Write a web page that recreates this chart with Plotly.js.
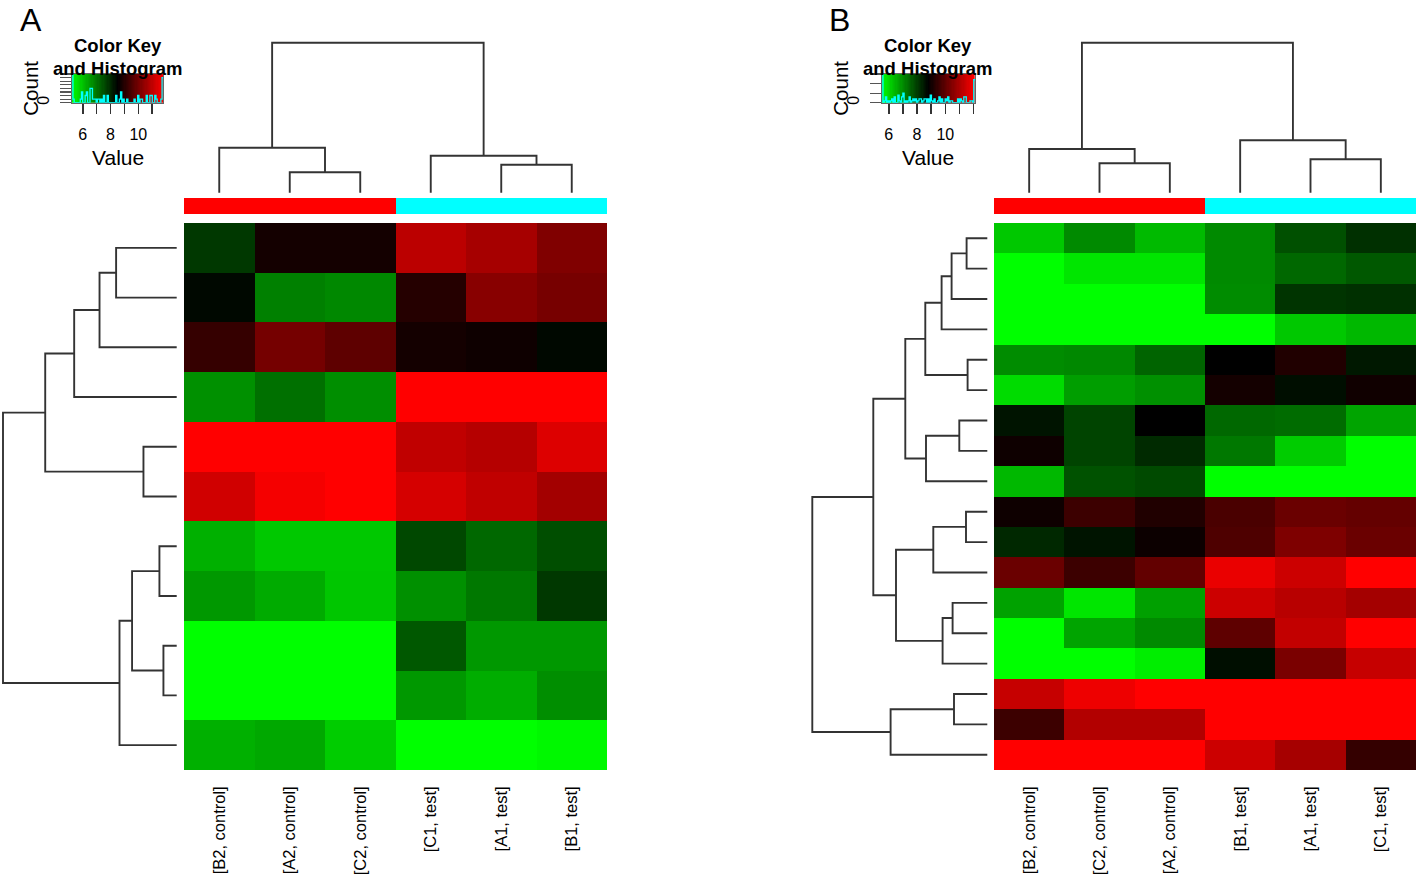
<!DOCTYPE html>
<html><head><meta charset="utf-8">
<script src="https://cdn.plot.ly/plotly-3.0.1.min.js"></script>
<style>html,body{margin:0;padding:0;background:#fff;} #plot{width:1416px;height:878px;}</style>
</head><body><div id="plot"></div>
<script>
const W = 1416, H = 878;

// ---------- Panel A data ----------
const colsA = ['[B2, control]', '[A2, control]', '[C2, control]', '[C1, test]', '[A1, test]', '[B1, test]'];
const groupsA = ['control', 'control', 'control', 'test', 'test', 'test'];
const valuesA = [
  [7.78, 8.76, 8.76, 10.92, 10.65, 10.16],
  [8.40, 6.84, 6.74, 8.98, 10.26, 10.04],
  [9.19, 10.01, 9.72, 8.76, 8.68, 8.40],
  [6.64, 7.05, 6.66, 12.0, 12.1, 11.9],
  [12.2, 12.0, 12.3, 10.98, 10.84, 11.36],
  [11.19, 11.67, 11.9, 11.26, 10.98, 10.61],
  [6.22, 5.91, 5.91, 7.57, 7.15, 7.49],
  [6.53, 6.29, 5.94, 6.64, 6.95, 7.78],
  [5.0, 4.9, 5.1, 7.36, 6.53, 6.53],
  [5.0, 5.1, 4.9, 6.53, 6.26, 6.66],
  [6.22, 6.33, 5.86, 5.1, 5.0, 5.29]
];
const keyBreaksA = [5.2, 11.8];
const keyTicksA = [6, 7, 8, 9, 10, 11];
const keyTickTextA = ['6', '', '8', '', '10', ''];
// dendrogram merges: [childA, childB, height]; negative = leaf (display order), positive = earlier merge
const colMergesA = [[-2, -3, 20.4], [-1, 1, 45], [-5, -6, 28], [-4, 3, 37], [2, 4, 150]];
const rowMergesA = [[-1, -2, 60.7], [1, -3, 77.3], [2, -4, 102.7], [-5, -6, 33.3], [3, 4, 131.7],
  [-7, -8, 17.3], [-9, -10, 13.3], [6, 7, 44.7], [8, -11, 57.3], [5, 9, 174]];

// ---------- Panel B data ----------
const colsB = ['[B2, control]', '[C2, control]', '[A2, control]', '[B1, test]', '[A1, test]', '[C1, test]'];
const groupsB = ['control', 'control', 'control', 'test', 'test', 'test'];
const valuesB = [
  [6.21, 7.01, 6.39, 7.01, 7.76, 8.18],
  [5.3, 5.82, 5.82, 7.01, 7.45, 7.66],
  [5.3, 5.2, 5.4, 6.99, 8.13, 8.18],
  [5.3, 5.4, 5.2, 5.3, 6.21, 6.42],
  [6.99, 7.04, 7.51, 8.80, 9.21, 8.49],
  [5.95, 6.76, 6.94, 9.06, 8.62, 9.01],
  [8.54, 7.92, 8.80, 7.45, 7.40, 6.68],
  [8.98, 7.92, 8.26, 7.25, 6.16, 5.3],
  [6.42, 7.74, 7.84, 5.3, 5.2, 5.4],
  [8.98, 9.58, 9.21, 9.76, 10.17, 10.09],
  [8.28, 8.54, 8.96, 9.81, 10.43, 10.17],
  [10.17, 9.58, 10.07, 11.83, 11.44, 12.3],
  [6.70, 5.82, 6.73, 11.44, 11.18, 10.92],
  [5.3, 6.68, 7.01, 10.02, 11.31, 12.4],
  [5.2, 5.3, 5.72, 8.62, 10.38, 11.36],
  [11.36, 11.88, 12.3, 12.5, 12.4, 12.6],
  [9.58, 11.10, 11.10, 12.4, 12.5, 12.3],
  [12.4, 12.5, 12.3, 11.44, 10.95, 9.47]
];
const keyBreaksB = [5.5, 12.1];
const keyTicksB = [6, 7, 8, 9, 10, 11, 12];
const keyTickTextB = ['6', '', '8', '', '10', '', ''];
const colMergesB = [[-2, -3, 29.4], [-1, 1, 43.7], [-5, -6, 33.4], [-4, 3, 52.4], [2, 4, 150]];
const rowMergesB = [[-1, -2, 20.7], [1, -3, 35.7], [2, -4, 45.7], [-5, -6, 19.7], [3, 4, 62],
  [-7, -8, 28], [6, -9, 61.3], [5, 7, 82], [-10, -11, 21.3], [9, -12, 54], [-13, -14, 34.7],
  [11, -15, 44.7], [10, 12, 91.3], [8, 13, 114], [-16, -17, 33.3], [15, -18, 96.7], [14, 16, 175]];

const nBins = 75;

// ---------- helpers ----------
const px = x => x / W;
const py = y => 1 - y / H;
const cs = [[0, 'rgb(0,255,0)'], [0.5, 'rgb(0,0,0)'], [1, 'rgb(255,0,0)']];
const sideCs = [[0, '#FF0000'], [1, '#00FFFF']];
const FONT = 'Liberation Sans, Arial, Helvetica, sans-serif';
const LINEC = '#333333';

function dendro(merges, orient) {
  const pos = [], hei = [], xs = [], ys = [];
  const p = i => i < 0 ? -i - 1 : pos[i - 1];
  const h = i => i < 0 ? 0 : hei[i - 1];
  merges.forEach(m => {
    const [a, b, ht] = m;
    const P = [p(a), p(a), p(b), p(b)], Hh = [h(a), ht, ht, h(b)];
    if (orient === 'col') { xs.push(...P, null); ys.push(...Hh, null); }
    else { xs.push(...Hh, null); ys.push(...P, null); }
    pos.push((p(a) + p(b)) / 2); hei.push(ht);
  });
  return { xs, ys, maxH: Math.max(...hei) };
}

function hist(vals, lo, hi, nb) {
  const w = (hi - lo) / nb, c = new Array(nb).fill(0);
  vals.flat().forEach(v => { let i = Math.floor((v - lo) / w); if (i < 0) i = 0; if (i >= nb) i = nb - 1; c[i]++; });
  const x = [], y = [];
  for (let i = 0; i < nb; i++) { x.push(lo + i * w); y.push(c[i]); }
  x.push(hi); y.push(c[nb - 1]);
  return { x, y, max: Math.max(...c) };
}

function vertDendroAxis(maxH, p0, p1, pad) {
  const k = maxH / (p0 - p1);
  return { domain: [py(p0 + pad), py(p1 - pad)], range: [-pad * k, maxH + pad * k] };
}
function horzDendroAxis(maxH, p0, p1, pad) {
  const k = maxH / (p0 - p1);
  return { domain: [px(p1 - pad), px(p0 + pad)], range: [maxH + pad * k, -pad * k] };
}

const hidden = { visible: false, showgrid: false, zeroline: false, fixedrange: true };

const traces = [];
const layout = {
  width: W, height: H, margin: { l: 0, r: 0, t: 0, b: 0 },
  paper_bgcolor: '#ffffff', plot_bgcolor: 'rgba(0,0,0,0)', showlegend: false,
  font: { family: FONT, color: '#000' },
  annotations: []
};

function panel(opt) {
  const { cols, groups, values, breaks, keyTicks, keyTickText, colMerges, rowMerges, ax, xl, xr, rdL, rdR, keyL, keyR } = opt;
  const nR = values.length, nC = cols.length;
  const axN = n => (n === 1 ? '' : String(n));
  const hmX = 'xaxis' + axN(ax[0]), hmY = 'yaxis' + axN(ax[0]);
  const sideY = 'yaxis' + axN(ax[1]), cdY = 'yaxis' + axN(ax[2]), rdX = 'xaxis' + axN(ax[3]);
  const kX = 'xaxis' + axN(ax[4]), kY = 'yaxis' + axN(ax[4]);
  const xr_ = 'x' + axN(ax[0]), yr_ = 'y' + axN(ax[0]);

  // heatmap
  traces.push({
    type: 'heatmap', z: values, x: cols.map((_, i) => i), y: values.map((_, i) => i),
    colorscale: cs, zmin: breaks[0], zmax: breaks[1], showscale: false,
    xaxis: xr_, yaxis: yr_, hoverinfo: 'skip'
  });
  layout[hmX] = {
    domain: [px(xl), xr >= W ? 1 : px(xr)], range: [-0.5, nC - 0.5], anchor: yr_,
    tickmode: 'array', tickvals: cols.map((_, i) => i), ticktext: cols, tickangle: -90,
    ticks: '', ticklabelstandoff: 12, tickfont: { size: 16.5, family: FONT, color: '#000' },
    showgrid: false, zeroline: false, showline: false, fixedrange: true
  };
  layout[hmY] = Object.assign({}, hidden, { domain: [py(770), py(223)], range: [nR - 0.5, -0.5], anchor: xr_ });

  // side colour bar
  traces.push({
    type: 'heatmap', z: [groups.map(g => g === 'control' ? 0 : 1)], x: cols.map((_, i) => i), y: [0],
    colorscale: sideCs, zmin: 0, zmax: 1, showscale: false, xaxis: xr_, yaxis: 'y' + axN(ax[1]), hoverinfo: 'skip'
  });
  layout[sideY] = Object.assign({}, hidden, { domain: [py(214), py(198)], range: [-0.5, 0.5], anchor: xr_ });

  // column dendrogram
  const cd = dendro(colMerges, 'col');
  traces.push({
    type: 'scatter', mode: 'lines', x: cd.xs, y: cd.ys, xaxis: xr_, yaxis: 'y' + axN(ax[2]),
    line: { color: LINEC, width: 1.9 }, hoverinfo: 'skip'
  });
  layout[cdY] = Object.assign({}, hidden, vertDendroAxis(cd.maxH, 192.7, 42.7, 3), { anchor: xr_ });

  // row dendrogram
  const rd = dendro(rowMerges, 'row');
  traces.push({
    type: 'scatter', mode: 'lines', x: rd.xs, y: rd.ys, xaxis: 'x' + axN(ax[3]), yaxis: yr_,
    line: { color: LINEC, width: 1.9 }, hoverinfo: 'skip'
  });
  layout[rdX] = Object.assign({}, hidden, horzDendroAxis(rd.maxH, rdR, rdL, 3), { anchor: yr_ });

  // colour key + histogram
  const hs = hist(values, breaks[0], breaks[1], nBins);
  const step = (breaks[1] - breaks[0]) / nBins;
  const grad = [];
  for (let i = 0; i < nBins; i++) grad.push(breaks[0] + (i + 0.5) * step);
  const kx = 'x' + axN(ax[4]), ky = 'y' + axN(ax[4]);
  traces.push({
    type: 'heatmap', z: [grad], x0: breaks[0] + step / 2, dx: step, y0: hs.max / 2, dy: hs.max,
    colorscale: cs, zmin: breaks[0], zmax: breaks[1], showscale: false, xaxis: kx, yaxis: ky, hoverinfo: 'skip'
  });
  traces.push({
    type: 'scatter', mode: 'lines', x: hs.x, y: hs.y, line: { color: '#00FFFF', width: 1.3, shape: 'hv' },
    xaxis: kx, yaxis: ky, hoverinfo: 'skip', cliponaxis: false
  });
  layout[kX] = {
    domain: [px(keyL), px(keyR)], range: breaks, anchor: ky,
    tickmode: 'array', tickvals: keyTicks, ticktext: keyTickText,
    ticks: 'outside', ticklen: 10, tickwidth: 1.5, tickcolor: '#333', ticklabelstandoff: 7,
    tickfont: { size: 16, family: FONT, color: '#000' },
    showline: true, linecolor: '#666', linewidth: 1, mirror: true,
    showgrid: false, zeroline: false, fixedrange: true
  };
  const ytv = [];
  const ydt = hs.max > 10 ? 5 : 1;
  for (let t = 0; t <= hs.max; t += ydt) ytv.push(t);
  layout[kY] = {
    domain: [py(102.7), py(74)], range: [0, hs.max], anchor: kx,
    tickmode: 'array', tickvals: ytv, ticktext: ytv.map(t => t === 0 ? '0' : ''),
    ticks: 'outside', ticklen: 11, tickwidth: 1.2, tickcolor: '#555', tickangle: -90, ticklabelstandoff: 4,
    tickfont: { size: 16, family: FONT, color: '#000' },
    showline: true, linecolor: '#666', linewidth: 1, mirror: true,
    showgrid: false, zeroline: false, fixedrange: true
  };

  const kc = (keyL + keyR) / 2;
  const ann = (text, x, y, size, extra) => layout.annotations.push(Object.assign({
    text, x: px(x), y: py(y), xref: 'paper', yref: 'paper', showarrow: false,
    xanchor: 'center', yanchor: 'middle', font: { size, family: FONT, color: '#000' }
  }, extra || {}));
  ann('<b>Color Key</b>', kc, 45, 18.5);
  ann('<b>and Histogram</b>', kc, 68, 18.5);
  ann('Value', kc, 157, 21);
  ann('Count', keyL - 42, 88, 20.5, { textangle: -90 });
  ann(opt.letter, opt.letterX, 0, 32, { yanchor: 'top', y: 1 });
}

panel({
  letter: 'A', letterX: 31, cols: colsA, groups: groupsA, values: valuesA, breaks: keyBreaksA,
  keyTicks: keyTicksA, keyTickText: keyTickTextA,
  colMerges: colMergesA, rowMerges: rowMergesA, ax: [1, 2, 3, 4, 5],
  xl: 184, xr: 607, rdL: 2.7, rdR: 176.7, keyL: 71.7, keyR: 163.3
});
panel({
  letter: 'B', letterX: 839, cols: colsB, groups: groupsB, values: valuesB, breaks: keyBreaksB,
  keyTicks: keyTicksB, keyTickText: keyTickTextB,
  colMerges: colMergesB, rowMerges: rowMergesB, ax: [6, 7, 8, 9, 10],
  xl: 994, xr: 1416, rdL: 812.3, rdR: 987.3, keyL: 881.7, keyR: 975
});

Plotly.newPlot('plot', traces, layout, { staticPlot: true, displayModeBar: false });
</script>
</body></html>
